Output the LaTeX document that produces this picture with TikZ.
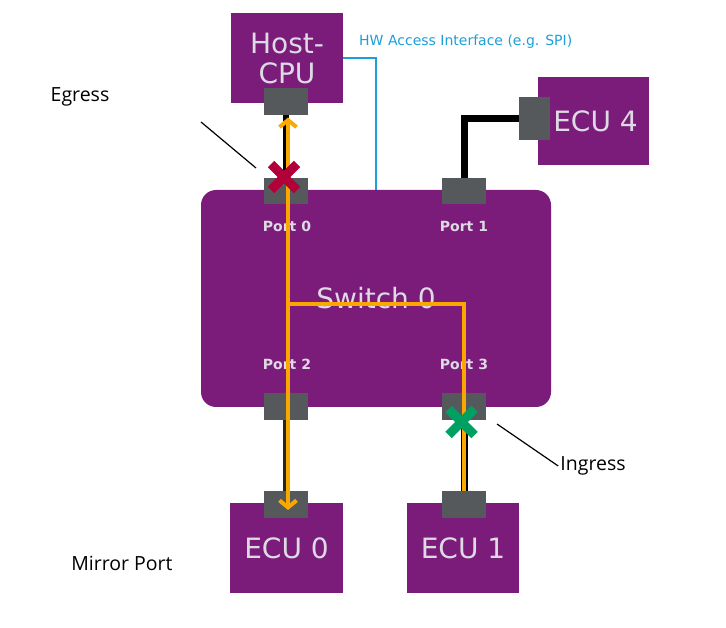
\documentclass[tikz,border=0pt]{standalone}
\usepackage{fontspec}
\setmainfont{DejaVu Sans}
\newfontfamily\notefont{Open Sans}
\usetikzlibrary{calc,arrows.meta,positioning}
\definecolor{boxPurple}{RGB}{123,28,123}
\definecolor{portGrey}{RGB}{85,89,91}
\definecolor{flowOrange}{RGB}{250,168,0}
\definecolor{hwBlue}{RGB}{30,158,214}
\definecolor{stopRed}{RGB}{178,0,56}
\definecolor{passGreen}{RGB}{0,160,98}
\definecolor{labelGrey}{RGB}{222,218,228}
\newcommand{\CrossMark}[2]{%
  \draw[#2,line width=9pt] ($(#1)+(-13,-13)$) -- ($(#1)+(13,13)$);
  \draw[#2,line width=9pt] ($(#1)+(-13,13)$) -- ($(#1)+(13,-13)$);}

\begin{document}
\begin{tikzpicture}[x=1pt,y=-1pt,
  unit/.style={fill=boxPurple,text=labelGrey,font=\fontsize{28}{30}\selectfont,align=center,inner sep=0pt,outer sep=0pt},
  port/.style={fill=portGrey,minimum width=44pt,minimum height=27pt,inner sep=0pt,outer sep=0pt},
  portlbl/.style={text=labelGrey,font=\bfseries\fontsize{14}{16}\selectfont,inner sep=0pt},
  link/.style={line width=6pt,black},
  flow/.style={line width=4pt,flowOrange},
  hw/.style={hwBlue,line width=1.2pt},
  note/.style={font=\notefont\fontsize{19.5}{22}\selectfont,inner sep=2pt}]
\useasboundingbox (0,0) rectangle (726,628);
% units
\node[unit,minimum width=112pt,minimum height=90pt] (cpu) at (287,58) {Host-\\CPU};
\node[unit,minimum width=111pt,minimum height=88pt] (ecu4) at (593.5,121) {\hspace*{4pt}ECU 4};
\node[unit,minimum width=350pt,minimum height=217pt,rounded corners=15pt] (sw) at (376,298.5) {Switch 0};
\node[unit,minimum width=113pt,minimum height=90pt] (ecu0) at (286.5,548) {ECU 0};
\node[unit,minimum width=112pt,minimum height=90pt] (ecu1) at (463,548) {ECU 1};
% ports
\node[port] (pcpu) at (286,102) {};
\node[port,minimum width=31pt,minimum height=43pt] (pecu4) at (534.5,118.5) {};
\node[port,minimum height=26pt] (p0) at (286,191) {};
\node[port,minimum height=26pt] (p1) at (464,191) {};
\node[port] (p2) at (286,406.5) {};
\node[port] (p3) at (464,406.5) {};
\node[port] (pecu0) at (286,504) {};
\node[port] (pecu1) at (464,504) {};
\node[portlbl] (l0) at (287,226) {Port 0};
\node[portlbl] (l1) at (464,226) {Port 1};
\node[portlbl] (l2) at (287,364) {Port 2};
\node[portlbl] (l3) at (464,364) {Port 3};
% links
\draw[link,line width=7pt] (p1.north) |- (pecu4.west);
\draw[link] (pcpu.south) -- (p0.north);
\draw[link,line width=5pt,black!85] ($(p2.south)+(-1,0)$) -- ($(pecu0.north)+(-1,0)$);
\draw[link,line width=7pt] (p3.south) -- (pecu1.north);
\draw[hw] (cpu.east) -| (sw.north);
\node[hwBlue,anchor=west,font=\fontsize{14}{16}\selectfont,inner sep=0pt] (hwlbl) at (359,42) {HW Access Interface (e.g. SPI)};
% mirrored flow
\coordinate (tap) at (288,304);
\draw[flow,{Straight Barb[length=7pt,width=17pt]}-{Straight Barb[length=7pt,width=17pt]}]
  ($(pcpu.south)+(2,2)$) -- ($(pecu0.center)+(2,6)$);
\draw[flow] (tap) -| (pecu1.north);
\CrossMark{284,177}{stopRed}
\CrossMark{461.5,422}{passGreen}
% notes
\node[note] (egress) at (80,97) {Egress};
\node[note] (ingress) at (593,466) {Ingress};
\node[note] (mirror) at (122,563) {Mirror Port};
\coordinate (eg1) at (201,122);
\coordinate (eg2) at (256,168);
\coordinate (in1) at (497,424);
\draw[line width=1.2pt] (eg1) -- (eg2);
\draw[line width=1.2pt] (in1) -- (ingress.west);
\end{tikzpicture}
\end{document}
